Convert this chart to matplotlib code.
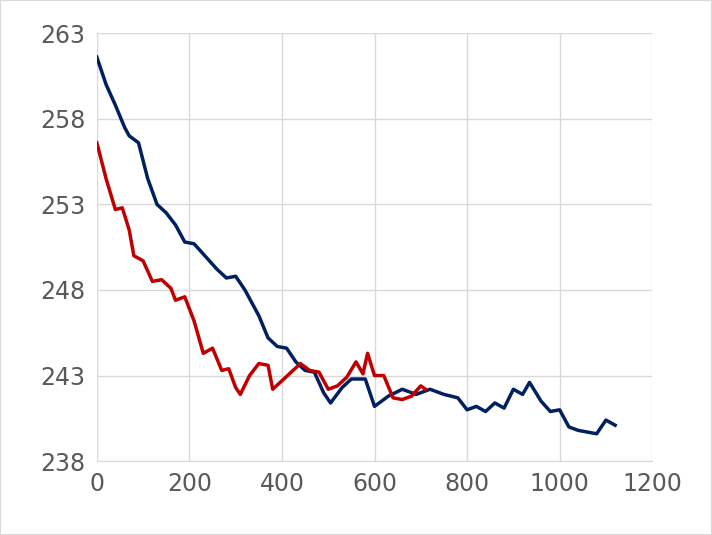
import matplotlib.pyplot as plt

blue_x = [0, 20, 40, 60, 70, 90, 110, 130, 150, 170, 190, 210, 240, 260, 280, 300, 320, 350, 370, 390,
          410, 430, 450, 470, 490, 505, 530, 550, 580, 600, 630, 660, 690, 720, 750, 780, 800, 820, 840,
          860, 880, 900, 920, 935, 960, 980, 1000, 1020, 1040, 1060, 1080, 1100, 1120]
blue_y = [261.6, 260.0, 258.8, 257.5, 257.0, 256.6, 254.5, 253.0, 252.5, 251.8, 250.8, 250.7, 249.8, 249.2,
          248.7, 248.8, 248.0, 246.5, 245.2, 244.7, 244.6, 243.8, 243.3, 243.2, 242.0, 241.4, 242.3, 242.8,
          242.8, 241.2, 241.8, 242.2, 241.9, 242.2, 241.9, 241.7, 241.0, 241.2, 240.9, 241.4, 241.1, 242.2,
          241.9, 242.6, 241.5, 240.9, 241.0, 240.0, 239.8, 239.7, 239.6, 240.4, 240.1]

red_x = [0, 20, 40, 55, 70, 80, 100, 120, 140, 160, 170, 190, 210, 230, 250, 270, 285, 300, 310, 330,
         350, 370, 380, 400, 420, 440, 460, 480, 500, 520, 540, 560, 575, 585, 600, 620, 640, 660, 680,
         700, 710]
red_y = [256.6, 254.5, 252.7, 252.8, 251.5, 250.0, 249.7, 248.5, 248.6, 248.1, 247.4, 247.6, 246.2, 244.3,
         244.6, 243.3, 243.4, 242.3, 241.9, 243.0, 243.7, 243.6, 242.2, 242.7, 243.2, 243.7, 243.3, 243.2,
         242.2, 242.4, 242.9, 243.8, 243.1, 244.3, 243.0, 243.0, 241.7, 241.6, 241.8, 242.4, 242.2]

fig = plt.figure(figsize=(7.12, 5.35), dpi=100)
ax = fig.add_axes([0.136, 0.138, 0.78, 0.8]) 
ax.plot(blue_x, blue_y, color='#002060', lw=2.5, solid_joinstyle='round')
ax.plot(red_x, red_y, color='#C00000', lw=2.5, solid_joinstyle='round')

ax.set_xlim(0, 1200)
ax.set_ylim(238, 263)
ax.set_xticks(range(0, 1201, 200))
ax.set_yticks(range(238, 264, 5))
ax.grid(True, color='#d9d9d9', lw=1)
ax.set_axisbelow(True)
for s in ['top', 'right', 'left']:
    ax.spines[s].set_visible(False)
ax.spines['bottom'].set_color('#d9d9d9')
ax.tick_params(length=0, labelsize=17, labelcolor='#595959', pad=8)
fig.patches.append(plt.Rectangle((0, 0), 1, 1, transform=fig.transFigure, fill=False,
                                 edgecolor='#d9d9d9', lw=1.5))
fig.savefig('out.png')
